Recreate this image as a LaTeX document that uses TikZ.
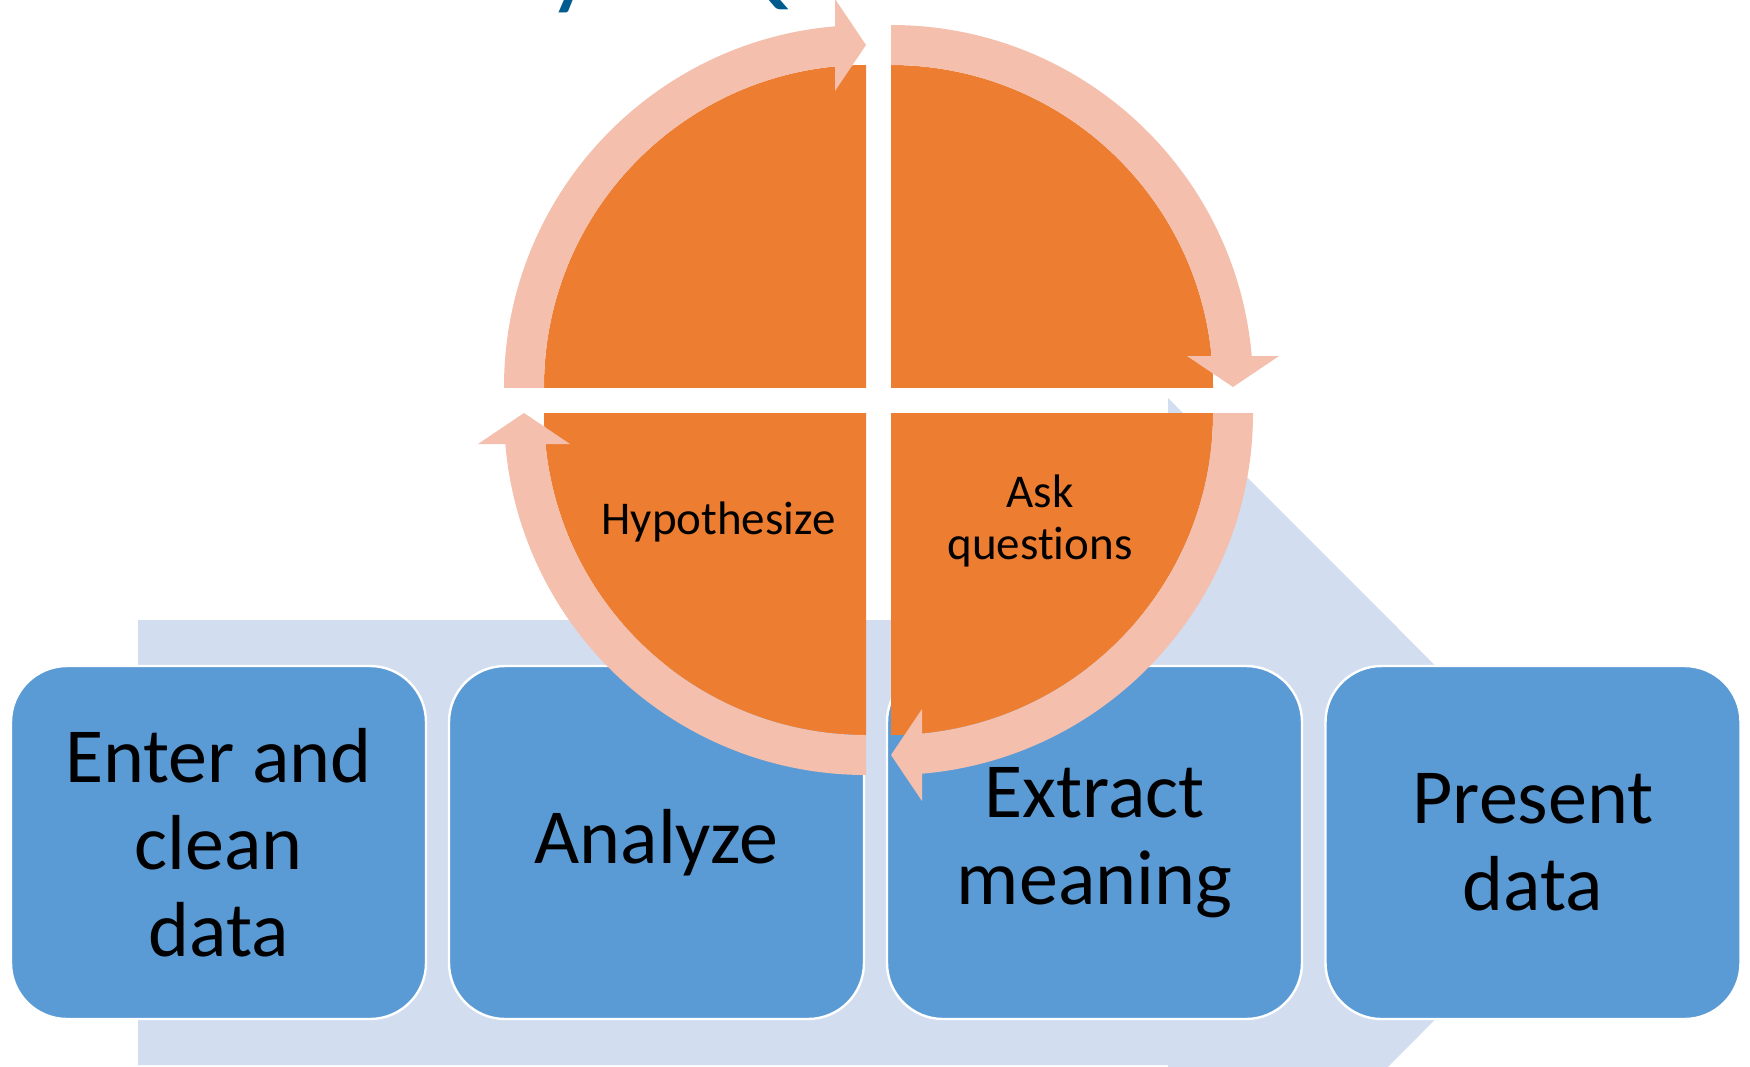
\documentclass[tikz,border=0pt]{standalone}
\usepackage{fontspec}
\setmainfont{Carlito}[Ligatures=NoCommon]
\definecolor{orangeq}{HTML}{ED7D31}
\definecolor{peach}{HTML}{F4BFAD}
\definecolor{boxblue}{HTML}{5B9BD5}
\definecolor{chev}{HTML}{D2DEEF}
\definecolor{titleblue}{HTML}{005B8E}
\begin{document}
\begin{tikzpicture}[x=0.5pt,y=-0.5pt,
  stepbox/.style={rounded corners=28pt, fill=boxblue, draw=white, line width=1.2pt,
    minimum width=207.5pt, minimum height=176.5pt, inner sep=0pt, align=center,
    font=\fontsize{39}{43.5}\selectfont},
  qtext/.style={font=\fontsize{23.5}{26}\selectfont, align=center, inner sep=0pt},
  band/.style={fill=peach, even odd rule}]
\useasboundingbox (0,0) rectangle (1750,1066);
\clip (0,0) rectangle (1750,1066);
\fill[white] (0,0) rectangle (1750,1066);
% cut-off title
\node[anchor=base west, inner sep=0pt, text=titleblue, font=\fontsize{54}{60}\selectfont] (title) at (10,-5) {How to Analyze Qualitative Data};
% background arrow
\fill[chev] (138,620) -- (1168,620) -- (1168,398) -- (1612,842.5) -- (1168,1287) -- (1168,1065) -- (138,1065) -- cycle;
% process boxes
\node[stepbox] (b1) at (218.5,842.5) {Enter and\\clean\\data};
\node[stepbox] (b2) at (656.5,842.5) {Analyze};
\node[stepbox] (b3) at (1094.5,842.5) {Extract\\meaning};
\node[stepbox] (b4) at (1533,842.5) {Present\\data};
% orange quadrants
\begin{scope}\clip (891,0) rectangle (1300,387); \fill[orangeq] (891,387) circle[radius=161pt]; \end{scope}
\begin{scope}\clip (891,413) rectangle (1300,800); \fill[orangeq] (891,413) circle[radius=161pt]; \end{scope}
\begin{scope}\clip (866,413) rectangle (400,800); \fill[orangeq] (866,413) circle[radius=161pt]; \end{scope}
\begin{scope}\clip (866,387) rectangle (400,0); \fill[orangeq] (866,387) circle[radius=161pt]; \end{scope}
% circular arrow bands
\begin{scope}\clip (891,0) rectangle (1300,356.5);
  \fill[band] (891,387) circle[radius=181pt] (891,387) circle[radius=161pt]; \end{scope}
\begin{scope}\clip (921.5,413) rectangle (1300,800);
  \fill[band] (891,413) circle[radius=181pt] (891,413) circle[radius=161pt]; \end{scope}
\begin{scope}\clip (866,443.5) rectangle (400,800);
  \fill[band] (866,413) circle[radius=181pt] (866,413) circle[radius=161pt]; \end{scope}
\begin{scope}\clip (835.5,387) rectangle (400,-10);
  \fill[band] (866,387) circle[radius=181pt] (866,387) circle[radius=161pt]; \end{scope}
% arrowheads
\fill[peach] (1187,356) -- (1279,356) -- (1233,387) -- cycle;
\fill[peach] (922,709) -- (922,801) -- (891,755) -- cycle;
\fill[peach] (478,444) -- (570,444) -- (524,413) -- cycle;
\fill[peach] (835,-1) -- (835,91) -- (866,45) -- cycle;
% quadrant labels
\node[qtext, anchor=base] (hyp) at (718.5,534) {Hypothesize};
\node[qtext] (ask) at (1040,521) {Ask\\questions};
\end{tikzpicture}
\end{document}
